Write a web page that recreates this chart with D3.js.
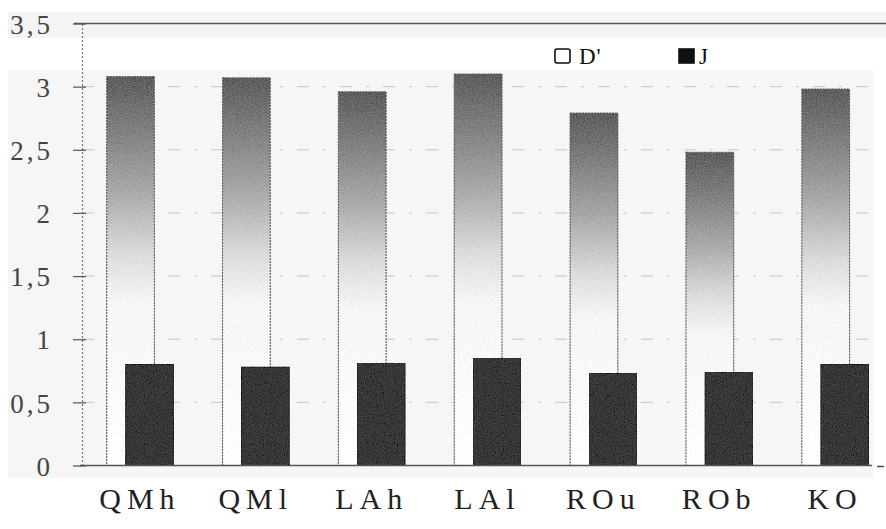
<!DOCTYPE html>
<html>
<head>
<meta charset="utf-8">
<script src="https://cdn.jsdelivr.net/npm/d3@7/dist/d3.min.js"></script>
<style>
  html, body { margin: 0; padding: 0; background: #ffffff; }
  svg { display: block; }
</style>
</head>
<body>
<svg id="chart" width="886" height="529"></svg>
<script>
// Sites along the x axis
const categories = ["QMh", "QMl", "LAh", "LAl", "ROu", "ROb", "KO"];
// Series names as shown in the legend
const seriesNames = ["D'", "J"];
// Diversity index D' per site
const dValues = [3.08, 3.07, 2.96, 3.10, 2.79, 2.48, 2.98];
// Evenness J per site
const jValues = [0.80, 0.78, 0.81, 0.85, 0.73, 0.74, 0.80];
// Y axis ticks and their labels
const yTicks = [0, 0.5, 1, 1.5, 2, 2.5, 3, 3.5];
const yTickLabels = ["0", "0,5", "1", "1,5", "2", "2,5", "3", "3,5"];

const svg = d3.select("#chart");
const W = 886, H = 529;
const plotLeft = 82, plotBottom = 465.5, plotTop = 23.5;

const x = d3.scaleBand().domain(categories).range([plotLeft, 893]).paddingInner(0).paddingOuter(0);
const bw = x.bandwidth();
// Overlapping series inside each band
const xs = d3.scalePoint().domain(seriesNames).range([bw * 0.213, bw * 0.377]);
const barW = bw * 0.412;
const y = d3.scaleLinear().domain([0, 3.5]).range([plotBottom, plotTop]);

const defs = svg.append("defs");
const grad = defs.append("linearGradient")
  .attr("id", "dgrad").attr("x1", 0).attr("y1", 0).attr("x2", 0).attr("y2", 1);
[[0, "#5e5e5e"], [0.12, "#7c7c7c"], [0.3, "#ababab"], [0.46, "#dddddd"], [0.58, "#f6f6f6"], [1, "#ffffff"]]
  .forEach(([o, c]) => grad.append("stop").attr("offset", o).attr("stop-color", c));

// Fine stipple over the filled bars
function addGrain(id, amount) {
  const f = defs.append("filter").attr("id", id)
    .attr("x", 0).attr("y", 0).attr("width", 1).attr("height", 1);
  f.append("feTurbulence").attr("type", "fractalNoise").attr("baseFrequency", 0.9)
    .attr("numOctaves", 2).attr("seed", 3).attr("result", "noise");
  f.append("feColorMatrix").attr("in", "noise").attr("type", "matrix")
    .attr("values", "0.33 0.33 0.33 0 0  0.33 0.33 0.33 0 0  0.33 0.33 0.33 0 0  0 0 0 0 1")
    .attr("result", "grey");
  f.append("feComposite").attr("in", "SourceGraphic").attr("in2", "grey")
    .attr("operator", "arithmetic").attr("k1", 0).attr("k2", 1)
    .attr("k3", amount).attr("k4", -amount / 2)
    .attr("result", "mix");
  f.append("feComposite").attr("in", "mix").attr("in2", "SourceAlpha").attr("operator", "in");
}
addGrain("grainD", 0.4);
addGrain("grainJ", 0.18);

// Page shading
svg.append("rect").attr("x", 8).attr("y", 12).attr("width", W - 8).attr("height", 26).attr("fill", "#f4f4f4");
svg.append("rect").attr("x", 8).attr("y", 70).attr("width", 866).attr("height", 408).attr("fill", "#f6f6f6");

// Horizontal gridlines
svg.append("g").selectAll("line").data(yTicks.filter(v => v > 0 && v < 3.5)).join("line")
  .attr("x1", plotLeft).attr("x2", 880)
  .attr("y1", d => y(d)).attr("y2", d => y(d))
  .attr("stroke", "#8a8a8a").attr("stroke-width", 1)
  .attr("stroke-dasharray", "12,14,3,14").attr("opacity", 0.45);

// Top line at 3,5
svg.append("line").attr("x1", plotLeft - 8).attr("x2", W).attr("y1", y(3.5)).attr("y2", y(3.5))
  .attr("stroke", "#555").attr("stroke-width", 1.3);

// D' bars
svg.append("g").selectAll("rect").data(categories).join("rect")
  .attr("x", (c) => x(c) + xs("D'"))
  .attr("y", (c, i) => y(dValues[i]))
  .attr("width", barW)
  .attr("height", (c, i) => y(0) - y(dValues[i]))
  .attr("fill", "url(#dgrad)")
  .attr("filter", "url(#grainD)");
svg.append("g").selectAll("rect").data(categories).join("rect")
  .attr("x", (c) => x(c) + xs("D'"))
  .attr("y", (c, i) => y(dValues[i]))
  .attr("width", barW)
  .attr("height", (c, i) => y(0) - y(dValues[i]))
  .attr("fill", "none")
  .attr("stroke", "#555").attr("stroke-width", 1.1).attr("stroke-dasharray", "2,1");

// J bars
svg.append("g").selectAll("rect").data(categories).join("rect")
  .attr("x", (c) => x(c) + xs("J"))
  .attr("y", (c, i) => y(jValues[i]))
  .attr("width", barW)
  .attr("height", (c, i) => y(0) - y(jValues[i]))
  .attr("fill", "#383838")
  .attr("stroke", "#222").attr("stroke-width", 1)
  .attr("filter", "url(#grainJ)");

// Y axis
const yAxis = d3.axisLeft(y).tickValues(yTicks)
  .tickFormat((d, i) => yTickLabels[i]).tickSize(0).tickPadding(0);
const yg = svg.append("g").attr("transform", `translate(${plotLeft},0)`).call(yAxis);
yg.select(".domain").attr("stroke", "#777").attr("stroke-dasharray", "2,2").attr("stroke-width", 1.2);
yg.selectAll(".tick").append("line")
  .attr("x1", -9).attr("x2", 4).attr("stroke", "#555").attr("stroke-width", 1.2);
yg.selectAll(".tick text")
  .attr("x", -29)
  .attr("dy", "0.36em")
  .attr("font-family", "Liberation Serif, Times New Roman, serif")
  .attr("font-size", 27)
  .attr("letter-spacing", 3)
  .attr("fill", "#444");

// X axis
const xAxis = d3.axisBottom(x).tickSize(0).tickPadding(0);
const xg = svg.append("g").attr("transform", `translate(0,${plotBottom})`).call(xAxis);
xg.select(".domain").attr("d", `M${plotLeft - 2},0H872`).attr("stroke", "#555").attr("stroke-width", 1.6);
xg.selectAll(".tick text")
  .attr("y", 33)
  .attr("dy", "0.36em")
  .attr("font-family", "Liberation Serif, Times New Roman, serif")
  .attr("font-size", 30)
  .attr("letter-spacing", 6)
  .attr("fill", "#222");
svg.append("line").attr("x1", 877).attr("x2", 884).attr("y1", plotBottom + 1).attr("y2", plotBottom + 1)
  .attr("stroke", "#444").attr("stroke-width", 1.4);

// Legend
const legend = svg.append("g").attr("font-family", "Liberation Serif, Times New Roman, serif")
  .attr("font-size", 23).attr("fill", "#111");
const legendX = [555, 679];
seriesNames.forEach((name, i) => {
  const g = legend.append("g").attr("transform", `translate(${legendX[i]},49)`);
  g.append("rect").attr("width", 15).attr("height", 14).attr("rx", i === 0 ? 2 : 0)
    .attr("fill", i === 0 ? "#ffffff" : "#111")
    .attr("stroke", "#111").attr("stroke-width", 1.6);
  g.append("text").attr("x", i === 0 ? 24 : 20).attr("y", 15).attr("letter-spacing", 1).text(name);
});
</script>
</body>
</html>
